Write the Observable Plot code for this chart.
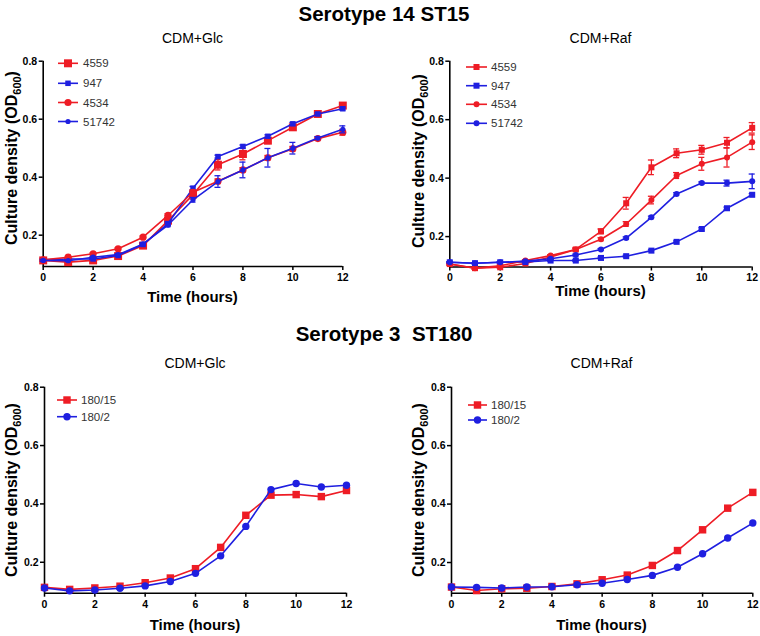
<!DOCTYPE html>
<html><head><meta charset="utf-8">
<script src="https://cdn.jsdelivr.net/npm/d3@7"></script>
<script src="https://cdn.jsdelivr.net/npm/@observablehq/plot@0.6"></script>
<style>
body{margin:0;background:#fff;}
#root{position:relative;width:760px;height:636px;font-family:"Liberation Sans",Arial,sans-serif;overflow:hidden;background:#fff;color:#000;}
.title{position:absolute;font-weight:bold;font-size:20.5px;white-space:pre;transform:translateX(-50%);line-height:1;}
.sub{position:absolute;font-size:14px;transform:translateX(-50%);line-height:1;white-space:pre;}
.panel{position:absolute;}
.panel svg{overflow:visible;}
</style></head><body><div id="root"></div>
<script>
// ---------- DATA ----------
const hours = [0,1,2,3,4,5,6,7,8,9,10,11,12];
const xTicks = [0,2,4,6,8,10,12];
const yTicks = [0.2,0.4,0.6,0.8];

const titleTop = "Serotype 14 ST15";
const titleBottom = "Serotype 3  ST180";
const mediumGlc = "CDM+Glc";
const mediumRaf = "CDM+Raf";
const xLabel = "Time (hours)";

// Serotype 14 ST15 strains
const st15Strains = ["4559","947","4534","51742"];
// CDM+Glc
const glc4559  = [0.113,0.107,0.113,0.128,0.164,0.250,0.340,0.443,0.480,0.526,0.572,0.618,0.647];
const glc4559Err = [0.004,0.004,0.004,0.005,0.005,0.018,0.015,0.018,0.020,0.010,0.010,0.005,0.006];
const glc947   = [0.115,0.118,0.118,0.130,0.168,0.240,0.362,0.471,0.506,0.541,0.584,0.618,0.636];
const glc947Err = [0.003,0.003,0.003,0.003,0.004,0.006,0.006,0.005,0.005,0.005,0.005,0.004,0.005];
const glc4534  = [0.115,0.124,0.136,0.153,0.193,0.268,0.348,0.386,0.425,0.467,0.498,0.533,0.555];
const glc4534Err = [0.003,0.003,0.003,0.003,0.004,0.006,0.008,0.008,0.008,0.008,0.008,0.005,0.010];
const glc51742 = [0.113,0.112,0.124,0.133,0.170,0.235,0.322,0.385,0.425,0.467,0.500,0.535,0.565];
const glc51742Err = [0.003,0.003,0.003,0.003,0.004,0.006,0.008,0.020,0.027,0.032,0.020,0.005,0.012];
// CDM+Raf
const raf4559  = [0.106,0.092,0.095,0.108,0.130,0.156,0.218,0.314,0.437,0.485,0.497,0.521,0.572];
const raf4559Err = [0.003,0.003,0.003,0.003,0.004,0.005,0.008,0.020,0.025,0.015,0.015,0.018,0.018];
const raf947   = [0.112,0.109,0.112,0.113,0.118,0.118,0.127,0.133,0.152,0.182,0.226,0.297,0.343];
const raf947Err = [0.002,0.002,0.002,0.002,0.002,0.003,0.003,0.003,0.003,0.003,0.004,0.004,0.004];
const raf4534  = [0.106,0.092,0.100,0.118,0.135,0.156,0.191,0.243,0.325,0.409,0.449,0.471,0.523];
const raf4534Err = [0.003,0.003,0.003,0.003,0.003,0.004,0.005,0.008,0.013,0.010,0.022,0.033,0.025];
const raf51742 = [0.112,0.109,0.112,0.116,0.124,0.137,0.156,0.195,0.266,0.346,0.383,0.383,0.389];
const raf51742Err = [0.002,0.002,0.002,0.002,0.002,0.003,0.003,0.004,0.004,0.004,0.004,0.010,0.025];

// Serotype 3 ST180 strains
const st180Strains = ["180/15","180/2"];
const glc180_15 = [0.114,0.107,0.112,0.118,0.130,0.146,0.178,0.251,0.361,0.430,0.432,0.425,0.446];
const glc180_2  = [0.112,0.102,0.105,0.111,0.119,0.134,0.162,0.222,0.323,0.449,0.470,0.458,0.464];
const raf180_15 = [0.116,0.104,0.110,0.112,0.118,0.127,0.141,0.157,0.190,0.241,0.312,0.386,0.440];
const raf180_2  = [0.116,0.115,0.113,0.116,0.117,0.124,0.129,0.142,0.156,0.184,0.230,0.284,0.335];

// ---------- STYLE ----------
const RED = "#ee1c25", BLUE = "#1f1fe0";
const FONT = '"Liberation Sans", Arial, sans-serif';
const root = document.getElementById("root");

function addDiv(cls, text, x, y) {
  const d = document.createElement("div");
  d.className = cls; d.textContent = text;
  d.style.left = x + "px"; d.style.top = y + "px";
  root.appendChild(d);
}

function seriesMarks(s) {
  const data = hours.map((h, i) => ({h, v: s.values[i], e: s.err ? s.err[i] : 0}));
  const withErr = data.filter(d => d.e > 0);
  const cap = 0.12;
  const marks = [
    Plot.line(data, {x: "h", y: "v", stroke: s.color, strokeWidth: 1.6})
  ];
  if (withErr.length) {
    marks.push(
      Plot.ruleX(withErr, {x: "h", y1: d => d.v - d.e, y2: d => d.v + d.e, stroke: s.color, strokeWidth: 1.3}),
      Plot.ruleY(withErr, {y: d => d.v + d.e, x1: d => d.h - cap, x2: d => d.h + cap, stroke: s.color, strokeWidth: 1.3}),
      Plot.ruleY(withErr, {y: d => d.v - d.e, x1: d => d.h - cap, x2: d => d.h + cap, stroke: s.color, strokeWidth: 1.3})
    );
  }
  marks.push(Plot.dot(data, {x: "h", y: "v", fill: s.color, stroke: "none", r: s.r, symbol: s.symbol}));
  return marks;
}

function panel(cfg) {
  const {left, top, width, height, x0, x1, yTop, yBot, yMin, series} = cfg;
  const chart = Plot.plot({
    width, height,
    marginLeft: x0 - left, marginRight: left + width - x1,
    marginTop: yTop - top, marginBottom: top + height - yBot,
    x: {domain: [0, 12]},
    y: {domain: [yMin, 0.8]},
    style: {fontFamily: FONT, background: "transparent", color: "#000", overflow: "visible"},
    marks: [
      Plot.axisX({ticks: xTicks, tickSize: 4, tickPadding: 3, fontSize: 10.5, fontWeight: "bold", label: null, strokeWidth: 1.5, tickFormat: d => String(d)}),
      Plot.axisY({ticks: yTicks, tickSize: 4, tickPadding: 2, fontSize: 10.5, fontWeight: "bold", label: null, strokeWidth: 1.5, tickFormat: d => d.toFixed(1)}),
      Plot.ruleY([yMin], {stroke: "#000", strokeWidth: 1.6}),
      Plot.ruleX([0], {stroke: "#000", strokeWidth: 1.6}),
      ...series.flatMap(seriesMarks)
    ]
  });
  const wrap = document.createElement("div");
  wrap.className = "panel";
  wrap.style.left = left + "px"; wrap.style.top = top + "px";
  wrap.appendChild(chart);
  root.appendChild(wrap);

  const svg = d3.select(chart);
  // y label
  const yl = svg.append("text")
    .attr("transform", `translate(${cfg.yLab.x - left},${cfg.yLab.y - top}) rotate(-90)`)
    .attr("text-anchor", "middle")
    .attr("font-family", FONT).attr("font-weight", "bold").attr("font-size", 16).attr("fill", "#000");
  yl.append("tspan").text("Culture density (OD");
  yl.append("tspan").attr("font-size", 11).attr("dy", 4).text("600");
  yl.append("tspan").attr("dy", -4).text(")");
  // x label
  svg.append("text")
    .attr("x", cfg.xLab.x - left).attr("y", cfg.xLab.y - top)
    .attr("text-anchor", "middle")
    .attr("font-family", FONT).attr("font-weight", "bold").attr("font-size", 15).attr("fill", "#000")
    .text(xLabel);
  // legend
  const lg = cfg.legend;
  series.forEach((s, i) => {
    const y = lg.rows[i] - top;
    const g = svg.append("g");
    g.append("line").attr("x1", lg.lx0 - left).attr("x2", lg.lx1 - left).attr("y1", y).attr("y2", y)
      .attr("stroke", s.color).attr("stroke-width", 1.6);
    const sym = s.symbol === "square" ? d3.symbolSquare : d3.symbolCircle;
    g.append("path").attr("d", d3.symbol(sym, Math.PI * s.r * s.r)())
      .attr("transform", `translate(${(lg.lx0 + lg.lx1) / 2 - left},${y})`).attr("fill", s.color);
    g.append("text").attr("x", lg.tx - left).attr("y", y + 4)
      .attr("text-anchor", "start")
      .attr("font-family", FONT).attr("font-size", 11.5).attr("fill", "#333").text(s.name);
  });
}

// ---------- TITLES ----------
addDiv("title", titleTop, 384, 3.7);
addDiv("title", titleBottom, 384, 323.6);
addDiv("sub", mediumGlc, 192.5, 31);
addDiv("sub", mediumRaf, 600.5, 31);
addDiv("sub", mediumGlc, 195, 356);
addDiv("sub", mediumRaf, 601.5, 356);

// ---------- PANELS ----------
panel({
  left: 0, top: 45, width: 372, height: 265,
  x0: 42.7, x1: 342.3, yTop: 60.7, yBot: 266, yMin: 0.092,
  yLab: {x: 16.5, y: 158}, xLab: {x: 192.5, y: 302},
  legend: {lx0: 58, lx1: 78, tx: 83, rows: [63.3, 83.3, 102.5, 121.5]},
  series: [
    {name: st15Strains[0], values: glc4559, err: glc4559Err, color: RED, symbol: "square", r: 4.5},
    {name: st15Strains[1], values: glc947, err: glc947Err, color: BLUE, symbol: "square", r: 3.1},
    {name: st15Strains[2], values: glc4534, err: glc4534Err, color: RED, symbol: "circle", r: 3.6},
    {name: st15Strains[3], values: glc51742, err: glc51742Err, color: BLUE, symbol: "circle", r: 2.6}
  ]
});
panel({
  left: 380, top: 45, width: 380, height: 265,
  x0: 449.3, x1: 751.7, yTop: 60.7, yBot: 266.5, yMin: 0.096,
  yLab: {x: 423.5, y: 161}, xLab: {x: 600.5, y: 296},
  legend: {lx0: 466, lx1: 487, tx: 491, rows: [67, 85.7, 104.3, 123.3]},
  series: [
    {name: st15Strains[0], values: raf4559, err: raf4559Err, color: RED, symbol: "square", r: 3.4},
    {name: st15Strains[1], values: raf947, err: raf947Err, color: BLUE, symbol: "square", r: 3.4},
    {name: st15Strains[2], values: raf4534, err: raf4534Err, color: RED, symbol: "circle", r: 3},
    {name: st15Strains[3], values: raf51742, err: raf51742Err, color: BLUE, symbol: "circle", r: 3}
  ]
});
panel({
  left: 0, top: 372, width: 372, height: 264,
  x0: 44, x1: 346, yTop: 386.7, yBot: 592.7, yMin: 0.094,
  yLab: {x: 16.5, y: 490}, xLab: {x: 195, y: 630},
  legend: {lx0: 57, lx1: 77, tx: 81, rows: [400, 416.7]},
  series: [
    {name: st180Strains[0], values: glc180_15, color: RED, symbol: "square", r: 4.2},
    {name: st180Strains[1], values: glc180_2, color: BLUE, symbol: "circle", r: 3.7}
  ]
});
panel({
  left: 380, top: 372, width: 380, height: 264,
  x0: 451, x1: 752.3, yTop: 386.7, yBot: 592.7, yMin: 0.095,
  yLab: {x: 424, y: 490}, xLab: {x: 601.5, y: 630},
  legend: {lx0: 468, lx1: 487, tx: 491, rows: [405, 420]},
  series: [
    {name: st180Strains[0], values: raf180_15, color: RED, symbol: "square", r: 4.2},
    {name: st180Strains[1], values: raf180_2, color: BLUE, symbol: "circle", r: 3.7}
  ]
});
</script>
</body></html>
